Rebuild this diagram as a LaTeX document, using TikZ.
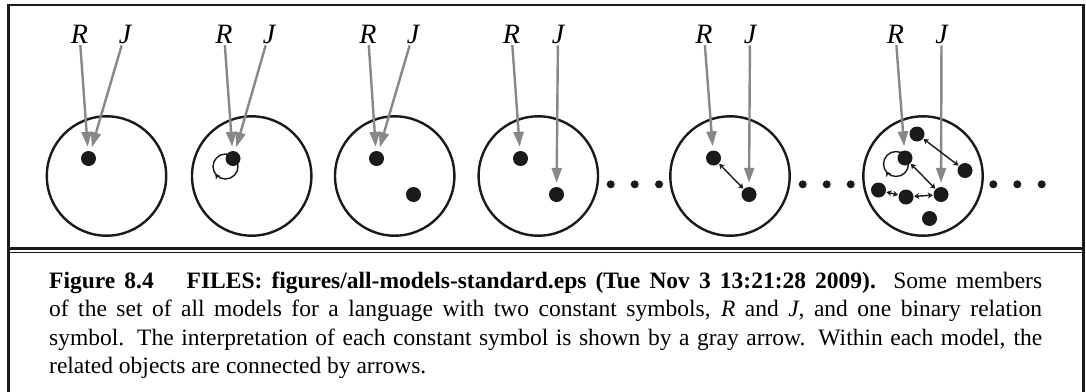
\documentclass[tikz,border=0pt]{standalone}
\usepackage{fontspec}
\setmainfont{Liberation Serif}
\usetikzlibrary{arrows.meta, decorations.markings}
\definecolor{inkBlack}{HTML}{1A1A1A}
\definecolor{constGray}{HTML}{86888B}

\begin{document}
\begin{tikzpicture}[x=1pt, y=-1pt,
    model/.style={draw=inkBlack, line width=2.4pt},
    obj/.style={circle, fill=inkBlack, inner sep=0pt, minimum size=15pt},
    gapdot/.style={circle, fill=inkBlack, inner sep=0pt, minimum size=8pt},
    constlabel/.style={font=\fontsize{28}{30}\selectfont\itshape, inner sep=2pt, anchor=base},
    interp/.style={-{Triangle[length=15pt, width=10pt]}, constGray, line width=2.4pt, shorten >=4pt},
    rel/.style={{Stealth[length=5pt, width=6pt, inset=1.5pt]}-{Stealth[length=5pt, width=6pt, inset=1.5pt]},
      inkBlack, line width=1.4pt, shorten <=0.5pt, shorten >=0.5pt},
    selfloop/.style={inkBlack, line width=1.4pt, postaction={decorate},
      decoration={markings, mark=at position 0.4 with {\arrow{Stealth[length=5pt, width=6pt, inset=1.5pt]}}}}]
        \useasboundingbox (0,0) rectangle (1086,391);

        % Frame and double rule
        \draw[inkBlack, line width=2.6pt] (8.7,392) -- (8.7,5) -- (1083.7,5) -- (1083.7,392);
        \draw[inkBlack, line width=3pt] (8.7,248) -- (1083.7,248);
        \draw[inkBlack, line width=1.5pt] (8.7,252.5) -- (1083.7,252.5);

        % Models
        \foreach \cx in {106.5, 251.7, 394.7, 538.3, 730, 923}
          \draw[model] (\cx,176) circle[radius=59.7];

        % Constant symbols
        \node[constlabel] (r1) at (79.5,43) {R};
        \node[constlabel] (j1) at (125,43) {J};
        \node[constlabel] (r2) at (224,43) {R};
        \node[constlabel] (j2) at (269,43) {J};
        \node[constlabel] (r3) at (368,43) {R};
        \node[constlabel] (j3) at (413,43) {J};
        \node[constlabel] (r4) at (511.5,43) {R};
        \node[constlabel] (j4) at (558,43) {J};
        \node[constlabel] (r5) at (704,43) {R};
        \node[constlabel] (j5) at (750,43) {J};
        \node[constlabel] (r6) at (895.5,43) {R};
        \node[constlabel] (j6) at (941.5,43) {J};

        % Objects
        \node[obj] (d11) at (88.5,158.5) {};
        \node[obj] (d21) at (233,158.5) {};
        \node[obj] (d31) at (376.5,158.5) {};
        \node[obj] (d32) at (413.5,194.5) {};
        \node[obj] (d41) at (520.5,158.5) {};
        \node[obj] (d42) at (556.5,194.5) {};
        \node[obj] (d51) at (713.5,158) {};
        \node[obj] (d52) at (749,194.5) {};
        \node[obj] (d6a) at (917,134) {};
        \node[obj] (d6b) at (905,158) {};
        \node[obj] (d6c) at (965,170.5) {};
        \node[obj] (d6d) at (941,194.5) {};
        \node[obj] (d6e) at (878.5,190) {};
        \node[obj] (d6f) at (906,197) {};
        \node[obj] (d6g) at (929.5,218.5) {};

        % Ellipses between models
        \foreach \gx [count=\i] in {610.7, 634.7, 659, 802.7, 826.7, 850.7, 993.3, 1017.3, 1041.7}
          \node[gapdot] (gap\i) at (\gx,184.3) {};

        % Interpretation arrows
        \draw[interp] (r1) -- (d11);
        \draw[interp] (j1) -- (d11);
        \draw[interp] (r2) -- (d21);
        \draw[interp] (j2) -- (d21);
        \draw[interp] (r3) -- (d31);
        \draw[interp] (j3) -- (d31);
        \draw[interp] (r4) -- (d41);
        \draw[interp] (j4) -- (d42);
        \draw[interp] (r5) -- (d51);
        \draw[interp] (j5) -- (d52);
        \draw[interp] (r6) -- (d6b);
        \draw[interp] (j6) -- (d6d);

        % Relation
        \draw[selfloop] (d21) ++(-7.5,8) circle[radius=12.5];
        \draw[selfloop] (d6b) ++(-9,6) circle[radius=12.5];
        \draw[rel] (d51) -- (d52);
        \draw[rel] (d6a) -- (d6c);
        \draw[rel] (d6b) -- (d6d);
        \draw[rel] (d6e) -- (d6f);
        \draw[rel] (d6f) -- (d6d);

        % Caption
        \node[anchor=north west, inner sep=0pt, text width=993pt, align=justify,
          font=\fontsize{23.5}{28.2}\selectfont] (caption) at (49,272)
          {\textbf{Figure 8.4}\hspace{1.4em}\textbf{FILES: \mbox{figures/all-models-standard.eps} (Tue Nov 3 13:21:28 2009).}
          Some members\linebreak
          of the set of all models for a language with two constant symbols, \textit{R} and \textit{J}, and one binary relation\linebreak
          symbol. The interpretation of each constant symbol is shown by a gray arrow. Within each model, the\linebreak
          related objects are connected by arrows.};
\end{tikzpicture}
\end{document}
